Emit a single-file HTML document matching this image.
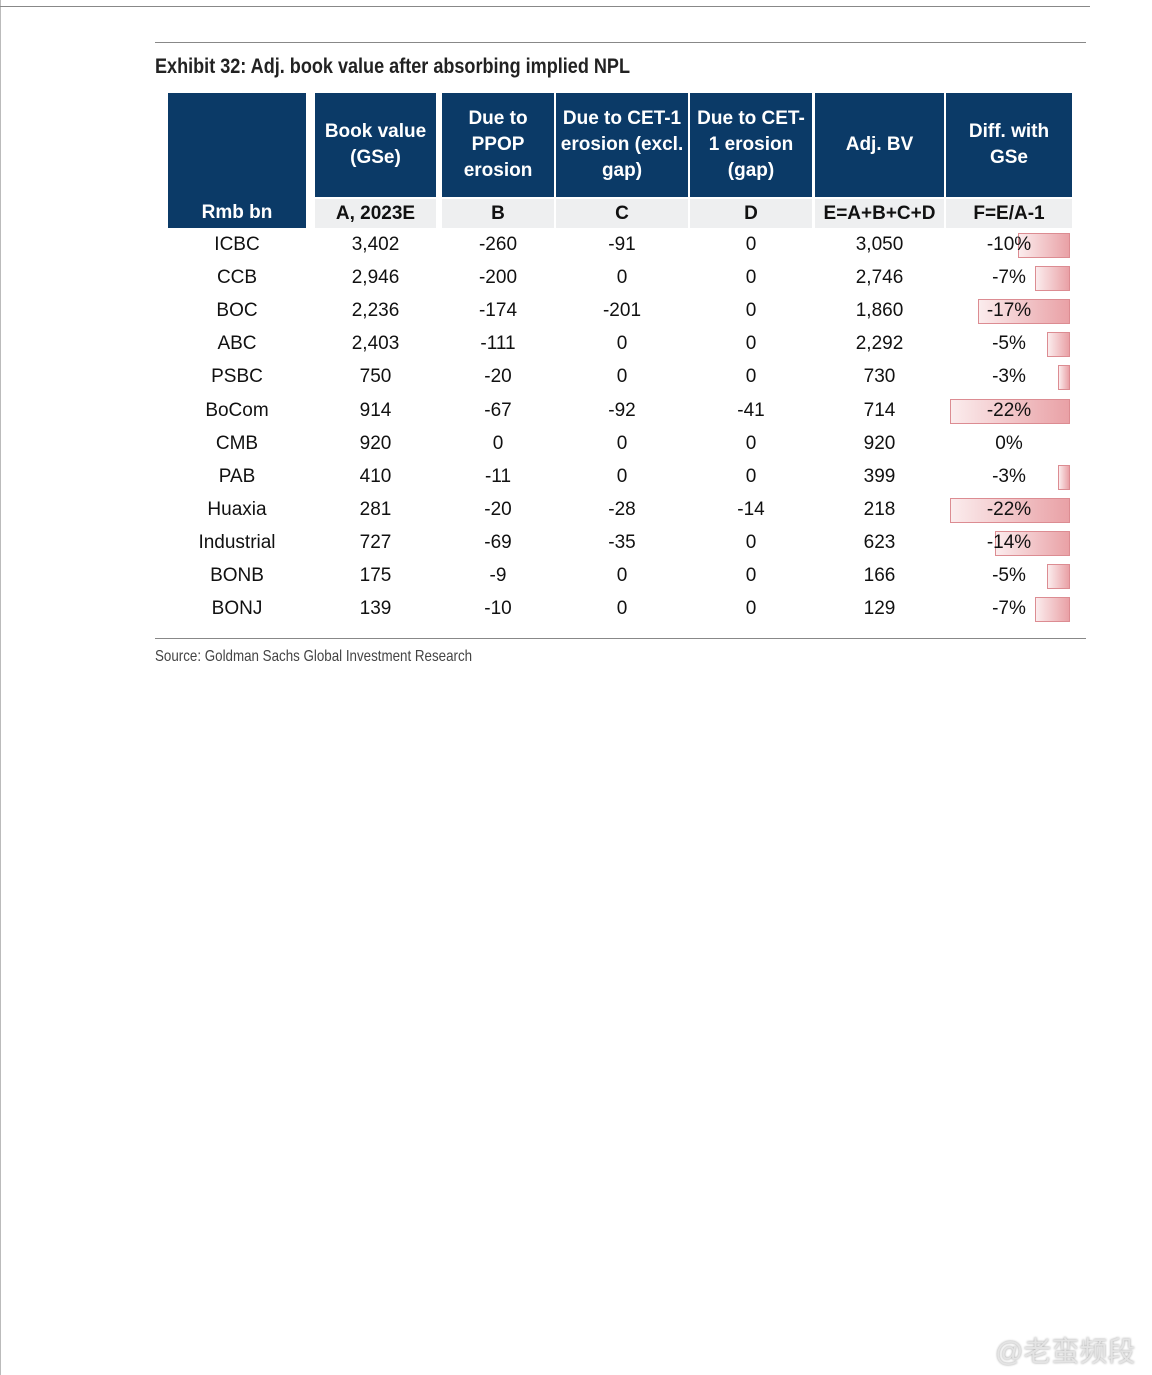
<!DOCTYPE html>
<html><head><meta charset="utf-8">
<style>
body{margin:0;width:1152px;height:1375px;background:#fff;position:relative;overflow:hidden;font-family:"Liberation Sans",Arial,sans-serif;}
.a{position:absolute;}
.hd{background:#0b3a67;color:#fff;font-weight:bold;font-size:19px;line-height:26px;text-align:center;display:flex;align-items:center;justify-content:center;}
.sub{background:#eeeff0;color:#111;font-weight:bold;font-size:19px;text-align:center;line-height:29px;}
.cell{font-size:19px;color:#111;text-align:center;line-height:24px;}
.bar{background:linear-gradient(to right,#fbeced,#e9a1a6);border:1px solid #dc8c92;box-sizing:border-box;}
</style></head><body>
<div class="a" style="left:0;top:0;width:1px;height:1375px;background:#bbb"></div>
<div class="a" style="left:0;top:6px;width:1090px;height:1px;background:#888"></div>
<div class="a" style="left:155px;top:42px;width:931px;height:1px;background:#888"></div>
<div class="a" style="left:155px;top:55px;font-size:21px;font-weight:bold;color:#222;transform:scaleX(0.86);transform-origin:left top;white-space:nowrap">Exhibit 32: Adj. book value after absorbing implied NPL</div>
<div id="tbl"></div>
<div class="a" style="left:155px;top:638px;width:931px;height:1px;background:#888"></div>
<div class="a" style="left:155px;top:648px;font-size:16px;color:#444;transform:scaleX(0.835);transform-origin:left top;white-space:nowrap">Source: Goldman Sachs Global Investment Research</div>
<div class="a" style="left:995px;top:1330px;font-size:28px;color:#e4e4e4;text-shadow:0 0 2px #999;font-family:'Liberation Sans','Noto Sans CJK SC',sans-serif">@老蛮频段</div>
<script>
const banks=["ICBC","CCB","BOC","ABC","PSBC","BoCom","CMB","PAB","Huaxia","Industrial","BONB","BONJ"];
const colA=["3,402","2,946","2,236","2,403","750","914","920","410","281","727","175","139"];
const colB=["-260","-200","-174","-111","-20","-67","0","-11","-20","-69","-9","-10"];
const colC=["-91","0","-201","0","0","-92","0","0","-28","-35","0","0"];
const colD=["0","0","0","0","0","-41","0","0","-14","0","0","0"];
const colE=["3,050","2,746","1,860","2,292","730","714","920","399","218","623","166","129"];
const diffPct=[-10,-7,-17,-5,-3,-22,0,-3,-22,-14,-5,-7];
const headers=["","Book value<br>(GSe)","Due to<br>PPOP<br>erosion","Due to CET-1<br>erosion (excl.<br>gap)","Due to CET-<br>1 erosion<br>(gap)","Adj. BV","Diff. with<br>GSe"];
const subs=["Rmb bn","A, 2023E","B","C","D","E=A+B+C+D","F=E/A-1"];
const cols=[[168,306],[315,436],[442,554],[556,688],[690,812],[815,944],[946,1072]];
const T=document.getElementById('tbl');
function mk(cls,name,x,y,w,h,html){const d=document.createElement('div');d.className='a '+cls;


d.style.left=x+'px';d.style.top=y+'px';d.style.width=w+'px';d.style.height=h+'px';if(html!==undefined)d.innerHTML=html;T.appendChild(d);return d;}
cols.forEach((c,i)=>{
 if(i===0){const d=mk('hd','header-rmb-bn',c[0],93,c[1]-c[0],135,'');d.style.alignItems='flex-end';d.innerHTML='<span style="line-height:30px">Rmb bn</span>';}
 else{mk('hd','header-col-'+i,c[0],93,c[1]-c[0],104,headers[i]);
 mk('sub','subheader-col-'+i,c[0],199,c[1]-c[0],29,subs[i]);}
});
const y0=245,dy=33.1;
const bx=(v)=>v===0?0:5.7*Math.abs(v)-5;
banks.forEach((b,r)=>{
 const cy=y0+r*dy;
 const vals=[b,colA[r],colB[r],colC[r],colD[r],colE[r]];
 vals.forEach((v,i)=>{const c=cols[i];mk('cell','cell-r'+r+'-c'+i,c[0],cy-12,c[1]-c[0],24,v);});
 const w=bx(diffPct[r]);
 if(w>0){mk('bar','diff-bar-'+b.toLowerCase(),1070-w,cy-12,w,25);}
 mk('cell','diff-value-'+b.toLowerCase(),946,cy-12,126,24,diffPct[r]+'%');
});
</script>
</body></html>
